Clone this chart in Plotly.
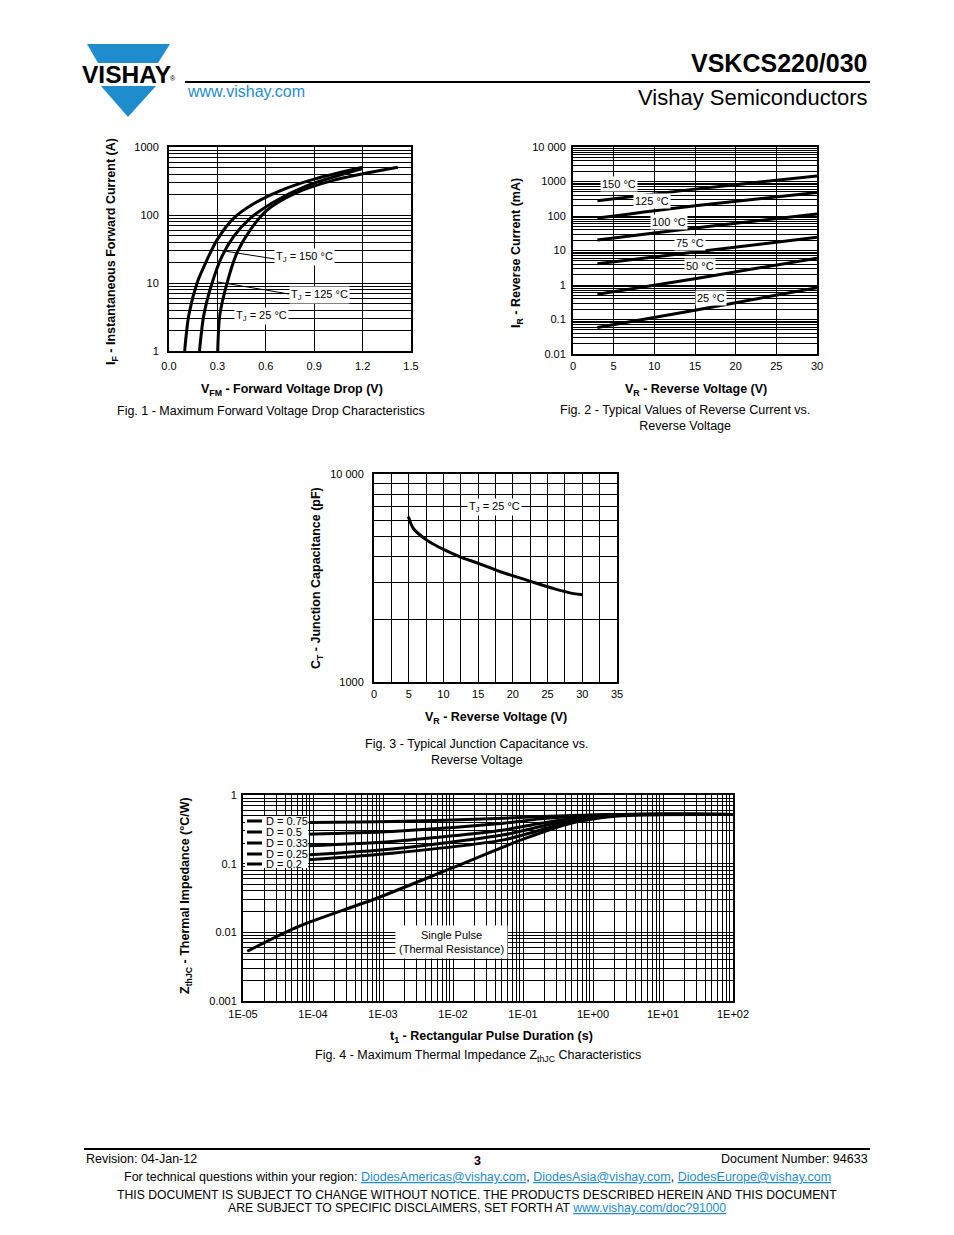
import plotly.graph_objects as go

W, H = 954, 1235
OFF = 8  # browser body margin
FONT = "Liberation Sans, Arial, Helvetica, sans-serif"
BLUE = "#1f8ccd"


def px(x):
    return (x - OFF) / W


def py(y):
    return 1 - (y - OFF) / H


# ---------------- data ----------------
# Fig. 1 - forward voltage drop (V) vs forward current (A)
vf_150 = [0.097, 0.123, 0.175, 0.236, 0.298, 0.40, 0.524, 0.688, 0.894, 1.20]
if_150 = [1, 3.4, 10.2, 22, 43, 89, 146, 227, 334, 504]
vf_125 = [0.189, 0.216, 0.267, 0.329, 0.40, 0.503, 0.647, 0.853, 1.20]
if_125 = [1, 3.4, 10, 24.8, 48, 89, 154, 268, 482]
vf_25 = [0.302, 0.315, 0.360, 0.421, 0.503, 0.606, 0.771, 1.017, 1.418]
if_25 = [1, 3.4, 10, 27.7, 60, 117, 203, 323, 504]

# Fig. 2 - reverse current (mA) vs reverse voltage (V)
vr = [3, 15, 30]
ir_150 = [277, 601, 1456]
ir_125 = [87.5, 199, 482]
ir_100 = [20.3, 45, 114]
ir_75 = [4.1, 9.0, 24.3]
ir_50 = [0.54, 1.52, 6.0]
ir_25 = [0.059, 0.186, 0.84]

# Fig. 3 - junction capacitance (pF) vs reverse voltage (V)
vr_c = [4.95, 5.67, 7.6, 10.0, 12.4, 15.05, 18.2, 22.0, 25.9, 28.75, 30.1]
ct = [6240, 5470, 4810, 4340, 4000, 3715, 3390, 3090, 2810, 2660, 2625]

# Fig. 4 - thermal impedance (degC/W) vs pulse duration (s)
t_sp = [1.15e-5, 6.4e-5, 8.3e-4, 9.5e-3, 0.11, 0.48, 2.06, 12.8, 100]
z_sp = [0.0053, 0.0123, 0.0316, 0.086, 0.235, 0.388, 0.49, 0.52, 0.52]
t_d = [8.7e-5, 1.35e-3, 5.3e-2, 0.18, 1.1, 100]
z_d075 = [0.397, 0.41, 0.458, 0.485, 0.513, 0.52]
z_d05 = [0.269, 0.294, 0.388, 0.449, 0.513, 0.52]
z_d033 = [0.182, 0.21, 0.31, 0.388, 0.50, 0.52]
z_d025 = [0.135, 0.164, 0.263, 0.347, 0.496, 0.52]
z_d02 = [0.114, 0.142, 0.222, 0.31, 0.485, 0.52]

fig = go.Figure()
LW = 3


def add(x, y, xa, ya, name):
    fig.add_trace(go.Scatter(x=x, y=y, mode="lines", name=name,
                             line=dict(color="black", width=LW, shape="spline", smoothing=0.8),
                             xaxis=xa, yaxis=ya, showlegend=False, hoverinfo="skip"))


add(vf_150, if_150, "x", "y", "TJ 150")
add(vf_125, if_125, "x", "y", "TJ 125")
add(vf_25, if_25, "x", "y", "TJ 25")

for arr, nm in [(ir_150, "150"), (ir_125, "125"), (ir_100, "100"), (ir_75, "75"), (ir_50, "50"), (ir_25, "25")]:
    add(vr, arr, "x2", "y2", nm)

add(vr_c, ct, "x3", "y3", "CT")

add(t_sp, z_sp, "x4", "y4", "single")
for arr, nm in [(z_d075, "0.75"), (z_d05, "0.5"), (z_d033, "0.33"), (z_d025, "0.25"), (z_d02, "0.2")]:
    add(t_d, arr, "x4", "y4", nm)


def log_minor(d0, d1):
    return [m * 10 ** d for d in range(d0, d1) for m in range(2, 10)]


def log_major(d0, d1):
    return [10 ** d for d in range(d0, d1 + 1)]


def minor(vals):
    return dict(tickmode="array", tickvals=vals, showgrid=True, gridcolor="black", gridwidth=1, ticks="")


tickfont = dict(family=FONT, size=11, color="black")
common = dict(showgrid=True, gridcolor="black", gridwidth=1, showline=True, mirror=True,
              linecolor="black", linewidth=2, zeroline=False, ticks="", tickfont=tickfont,
              fixedrange=True, automargin=False)

fig.update_layout(
    template="plotly_white",
    width=W, height=H, margin=dict(l=0, r=0, t=0, b=0, autoexpand=False),
    paper_bgcolor="white", plot_bgcolor="white", showlegend=False,
    xaxis=dict(domain=[px(169), px(411)], range=[0, 1.5], anchor="y", ticklabelstandoff=4,
               tickvals=[0, 0.3, 0.6, 0.9, 1.2, 1.5], ticktext=["0.0", "0.3", "0.6", "0.9", "1.2", "1.5"],
               **common),
    yaxis=dict(domain=[py(351), py(147)], type="log", range=[0, 3], anchor="x", ticklabelstandoff=6,
               tickvals=log_major(0, 3), ticktext=["1", "10", "100", "1000"],
               minor=minor(log_minor(0, 3)), **common),
    xaxis2=dict(domain=[px(573), px(817)], range=[0, 30], anchor="y2", ticklabelstandoff=1,
                tickvals=[0, 5, 10, 15, 20, 25, 30], **common),
    yaxis2=dict(domain=[py(354), py(147)], type="log", range=[-2, 4], anchor="x2", ticklabelstandoff=3,
                tickvals=log_major(-2, 4), ticktext=["0.01", "0.1", "1", "10", "100", "1000", "10 000"],
                minor=minor(log_minor(-2, 4)), **common),
    xaxis3=dict(domain=[px(374), px(617)], range=[0, 35], anchor="y3", ticklabelstandoff=1,
                tickvals=[0, 5, 10, 15, 20, 25, 30, 35],
                minor=minor([2.5, 7.5, 12.5, 17.5, 22.5, 27.5, 32.5]), **common),
    yaxis3=dict(domain=[py(682), py(474)], type="log", range=[3, 4], anchor="x3", ticklabelstandoff=6,
                tickvals=[1000, 10000], ticktext=["1000", "10 000"],
                minor=minor(log_minor(3, 4)), **common),
    xaxis4=dict(domain=[px(243), px(733)], type="log", range=[-5, 2], anchor="y4", ticklabelstandoff=2,
                tickvals=log_major(-5, 2),
                ticktext=["1E-05", "1E-04", "1E-03", "1E-02", "1E-01", "1E+00", "1E+01", "1E+02"],
                minor=minor(log_minor(-5, 2)), **common),
    yaxis4=dict(domain=[py(1001), py(795)], type="log", range=[-3, 0], anchor="x4", ticklabelstandoff=2,
                tickvals=log_major(-3, 0), ticktext=["0.001", "0.01", "0.1", "1"],
                minor=minor(log_minor(-3, 0)), **common),
)

ann = []


def text(x, y, s, size=12, anchor="center", bold=False, color="black", angle=0, bg=None, pad=1):
    d = dict(x=px(x), y=py(y), xref="paper", yref="paper", text=("<b>%s</b>" % s) if bold else s,
             showarrow=False, xanchor=anchor, yanchor="middle", textangle=angle,
             font=dict(family=FONT, size=size, color=color))
    if bg:
        d["bgcolor"] = bg
        d["borderpad"] = pad
    ann.append(d)


TS = 12.5   # axis titles
CS = 12.5   # captions / footer

# header
text(870, 63, "VSKCS220/030", size=25, anchor="right", bold=True)
text(185, 91, "www.vishay.com", size=16, anchor="left", color=BLUE)
text(870, 97, "Vishay Semiconductors", size=22, anchor="right")
text(126, 74, "VISHAY", size=24.5, bold=True)
text(173, 79, "®", size=7)

# fig 1 texts
text(112, 252, "I<sub>F</sub> - Instantaneous Forward Current (A)", size=TS, bold=True, angle=-90)
text(292, 390, "V<sub>FM</sub> - Forward Voltage Drop (V)", size=TS, bold=True)
text(271, 411, "Fig. 1 - Maximum Forward Voltage Drop Characteristics", size=CS)
text(304, 257, "T<sub>J</sub> = 150 °C", size=11, bg="white")
text(319, 295, "T<sub>J</sub> = 125 °C", size=11, bg="white")
text(261, 316, "T<sub>J</sub> = 25 °C", size=11, bg="white")

# fig 2 texts
text(517, 253, "I<sub>R</sub> - Reverse Current (mA)", size=TS, bold=True, angle=-90)
text(696, 390, "V<sub>R</sub> - Reverse Voltage (V)", size=TS, bold=True)
text(685, 418, "Fig. 2 - Typical Values of Reverse Current vs.<br>Reverse Voltage", size=CS)
for lbl, xx, yy in [("150 °C", 619, 184), ("125 °C", 652, 201), ("100 °C", 669, 222),
                    ("75 °C", 690, 243), ("50 °C", 700, 266), ("25 °C", 711, 298)]:
    text(xx, yy, lbl, size=11, bg="white")

# fig 3 texts
text(317, 578, "C<sub>T</sub> - Junction Capacitance (pF)", size=TS, bold=True, angle=-90)
text(496, 718, "V<sub>R</sub> - Reverse Voltage (V)", size=TS, bold=True)
text(477, 752, "Fig. 3 - Typical Junction Capacitance vs.<br>Reverse Voltage", size=CS)
text(495, 507, "T<sub>J</sub> = 25 °C", size=11, bg="white")

# fig 4 texts
text(186, 896, "Z<sub>thJC</sub> - Thermal Impedance (°C/W)", size=TS, bold=True, angle=-90)
text(491, 1037, "t<sub>1</sub> - Rectangular Pulse Duration (s)", size=TS, bold=True)
text(478, 1056, "Fig. 4 - Maximum Thermal Impedance Z<sub>thJC</sub> Characteristics", size=CS)
text(451, 942, "Single Pulse<br>(Thermal Resistance)", size=11, bg="white", pad=3)

# footer
text(84, 1159, "Revision: 04-Jan-12", size=CS, anchor="left")
text(477, 1161, "3", size=CS, bold=True)
text(870, 1159, "Document Number: 94633", size=CS, anchor="right")
lk = lambda s: "<span style='color:%s'><u>%s</u></span>" % (BLUE, s)
text(477, 1177, "For technical questions within your region: " + lk("DiodesAmericas@vishay.com") + ", "
     + lk("DiodesAsia@vishay.com") + ", " + lk("DiodesEurope@vishay.com"), size=CS)
text(477, 1195, "THIS DOCUMENT IS SUBJECT TO CHANGE WITHOUT NOTICE. THE PRODUCTS DESCRIBED HEREIN AND THIS DOCUMENT",
     size=12.2)
text(477, 1208, "ARE SUBJECT TO SPECIFIC DISCLAIMERS, SET FORTH AT " + lk("www.vishay.com/doc?91000"), size=12.2)

shapes = []


def pline(x0, y0, x1, y1, w=1, color="black"):
    shapes.append(dict(type="line", xref="paper", yref="paper", x0=px(x0), y0=py(y0), x1=px(x1), y1=py(y1),
                       line=dict(color=color, width=w)))


def ppath(pts, color):
    p = "M " + " L ".join("%f,%f" % (px(a), py(b)) for a, b in pts) + " Z"
    shapes.append(dict(type="path", xref="paper", yref="paper", path=p, fillcolor=color,
                       line=dict(width=0)))


# header / footer rules
pline(185, 82, 870, 82, 2)
pline(84, 1149, 870, 1149, 2)

# logo
ppath([(87, 44), (170, 44), (158, 63), (98, 63)], BLUE)
ppath([(101, 86), (156, 86), (128, 117)], BLUE)

# fig 1 leader lines
pline(218, 250, 275, 259, 1)
pline(218, 282, 289, 294, 1)

# fig 4 D legend box
shapes.append(dict(type="rect", xref="paper", yref="paper", x0=px(245), x1=px(308), y0=py(868), y1=py(816),
                   fillcolor="white", line=dict(width=0)))
for lbl, yy in [("D = 0.75", 821), ("D = 0.5", 832), ("D = 0.33", 843), ("D = 0.25", 854), ("D = 0.2", 864)]:
    pline(247, yy, 262, yy, 3)
    text(264, yy, lbl, size=11, anchor="left")

fig.update_layout(annotations=ann, shapes=shapes)
fig.write_html("out.html", config={"displayModeBar": False})
